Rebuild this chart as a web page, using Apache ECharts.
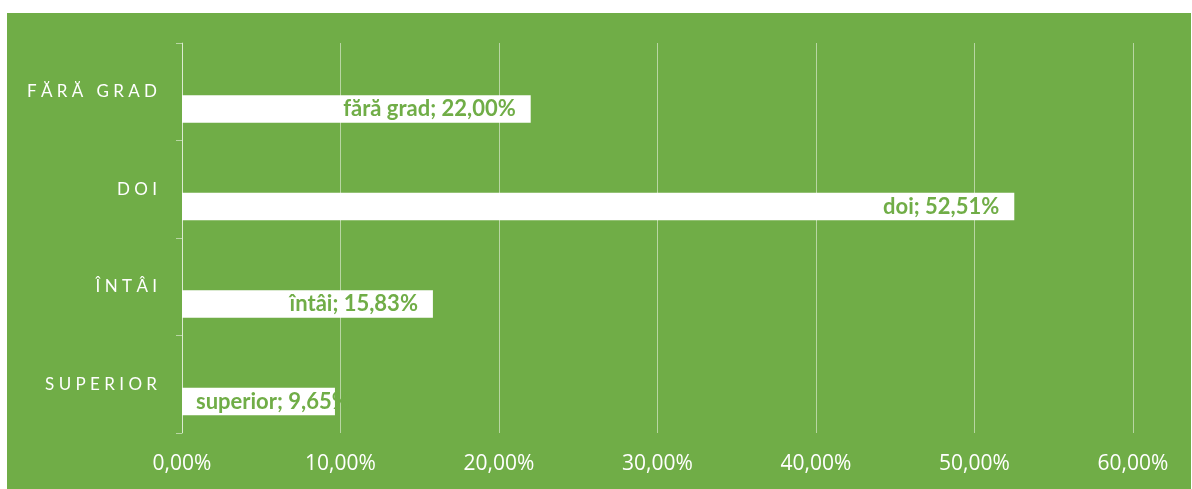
<!DOCTYPE html>
<html>
<head>
<meta charset="utf-8">
<script src="https://cdn.jsdelivr.net/npm/echarts@6/dist/echarts.min.js"></script>
<style>
  html, body { margin: 0; padding: 0; background: #fff; }
  #bg {
    position: absolute;
    left: 7px;
    top: 13px;
    width: 1184px;
    height: 476px;
    background: #70ad47;
  }
  #chart { width: 100%; height: 100%; }
</style>
</head>
<body>
<div id="bg"><div id="chart"></div></div>
<script>
// categories, top to bottom
const categories = ["fără grad", "doi", "întâi", "superior"];
const percentValues = [22.0, 52.51, 15.83, 9.65];
const axisMax = 60;
const axisStep = 10;

const green = "#70ad47";

function pct(v) {
  return v.toFixed(2).replace(".", ",") + "%";
}

// spread caps like the letter-spaced axis titles
function spaced(s) {
  return s.toUpperCase().split(" ").map(w => w.split("").join(" ")).join("   ");
}

const chart = echarts.init(document.getElementById("chart"));
chart.setOption({
  animation: false,
  grid: {
    left: 175,
    right: 58,
    top: 30,
    bottom: 56
  },
  xAxis: {
    type: "value",
    min: 0,
    max: axisMax,
    interval: axisStep,
    axisLine: { show: false },
    axisTick: { show: false },
    splitLine: {
      show: true,
      lineStyle: { color: "rgba(255,255,255,0.5)", width: 1 }
    },
    axisLabel: {
      color: "#fff",
      fontFamily: "Open Sans",
      fontSize: 21,
      margin: 21,
      formatter: v => pct(v)
    }
  },
  yAxis: {
    type: "category",
    inverse: true,
    data: categories,
    axisLine: {
      show: true,
      lineStyle: { color: "rgba(255,255,255,0.5)", width: 1 }
    },
    axisTick: {
      show: true,
      length: 6,
      lineStyle: { color: "rgba(255,255,255,0.5)" }
    },
    splitLine: { show: false },
    axisLabel: {
      color: "#fff",
      fontFamily: "Lato",
      fontSize: 17,
      margin: 25,
      formatter: s => spaced(s)
    }
  },
  series: [
    {
      // empty series that Excel left in each band
      type: "bar",
      name: "gol",
      barWidth: 27.5,
      barGap: "25%",
      data: categories.map(() => "-")
    },
    {
      type: "bar",
      name: "grad",
      barWidth: 27.5,
      barGap: "25%",
      itemStyle: { color: "#fff" },
      label: {
        show: true,
        position: "insideRight",
        distance: 15,
        color: green,
        fontFamily: "Lato",
        fontWeight: "bold",
        fontSize: 22,
        formatter: p => p.name + "; " + pct(p.value)
      },
      data: percentValues.map((v, i) => ({
        value: v,
        label: i === 3 ? { position: "insideLeft", distance: 14 } : {}
      }))
    }
  ]
});
</script>
</body>
</html>
